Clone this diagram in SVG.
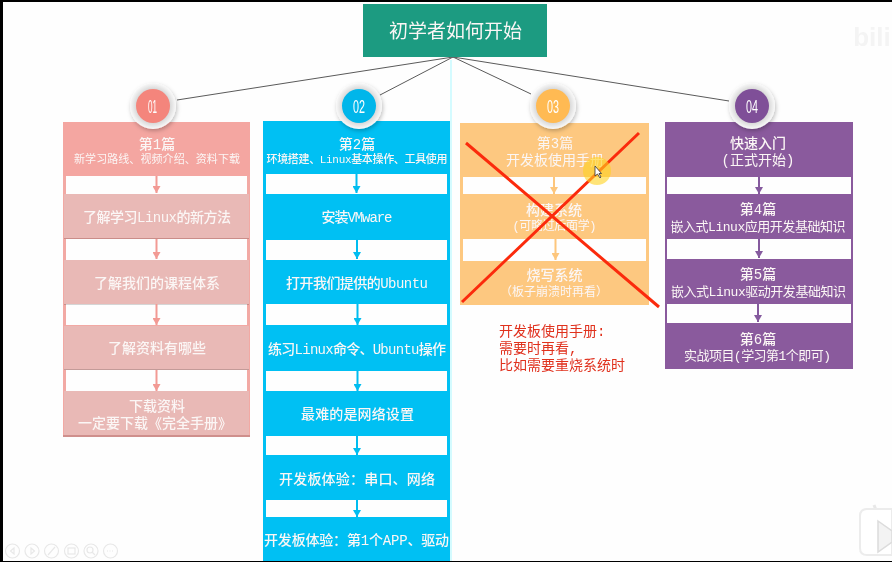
<svg xmlns="http://www.w3.org/2000/svg" width="892" height="562" viewBox="0 0 892 562">
<style>
text{font-family:"Liberation Mono","Noto Sans CJK SC",sans-serif;text-anchor:middle;fill:#fbf6f5}
.t{font-size:14px;font-weight:500}
.s{font-size:12px}
.m{font-size:13px}
.r{font-size:14px;fill:#e0301e;text-anchor:start}
.n{font-family:"Liberation Sans",sans-serif;font-size:18px;fill:#fff}
.gap{fill:#fefefe}
.sh{fill:#000;opacity:.16}
.link{stroke:#5a5a5a;stroke-width:1;fill:none}
.arr{stroke-width:2;fill:none}
.x{stroke:#fb2c0c;stroke-width:3;fill:none}
.tool{fill:none;stroke:#e8e8e8;stroke-width:1.200}
</style>
<defs>
<marker id="m1" markerUnits="userSpaceOnUse" markerWidth="9" markerHeight="8" refX="7" refY="4" orient="auto"><path d="M0 0L7 4L0 8Z" fill="#f29a94"/></marker>
<marker id="m2" markerUnits="userSpaceOnUse" markerWidth="9" markerHeight="8" refX="7" refY="4" orient="auto"><path d="M0 0L7 4L0 8Z" fill="#00bdf0"/></marker>
<marker id="m3" markerUnits="userSpaceOnUse" markerWidth="9" markerHeight="8" refX="7" refY="4" orient="auto"><path d="M0 0L7 4L0 8Z" fill="#fdc67c"/></marker>
<marker id="m4" markerUnits="userSpaceOnUse" markerWidth="9" markerHeight="8" refX="7" refY="4" orient="auto"><path d="M0 0L7 4L0 8Z" fill="#855a9e"/></marker>
<radialGradient id="ring" cx=".5" cy=".5" r=".5"><stop offset=".7" stop-color="#d4d4d4"/><stop offset="1" stop-color="#f9f9f9"/></radialGradient>
<filter id="ds" x="-30%" y="-30%" width="160%" height="160%"><feDropShadow dx="1" dy="2" stdDeviation="2" flood-color="#000" flood-opacity=".25"/></filter>
<filter id="soft" x="-2%" y="-2%" width="104%" height="104%"><feGaussianBlur stdDeviation=".35"/></filter>
</defs>
<rect width="892" height="562" fill="#fefefe"/>
<g filter="url(#soft)">
<rect x="450" y="60" width="2" height="502" fill="#d4fbff"/>

<g id="watermark"><text x="872" y="46" font-size="26" style="font-family:'Liberation Sans',sans-serif;font-weight:700;fill:#f4f4f4">bili</text></g>

<g id="col1">
<rect x="63" y="122" width="187" height="314" fill="#f2a9a4"/>
<rect class="gap" x="66" y="176" width="181" height="18"/>
<rect class="gap" x="66" y="239" width="181" height="21"/>
<rect class="gap" x="66" y="304" width="181" height="21"/>
<rect class="gap" x="66" y="370" width="181" height="21"/>
<g id="c1h"><rect x="63" y="122" width="187" height="54" fill="#f4a6a1"/><text class="t" x="157" y="149">第1篇</text><text class="s" x="157" y="163" textLength="166" style="font-size:11px">新学习路线、视频介绍、资料下载</text></g>
<g id="c1a"><rect x="64" y="194" width="185" height="44" fill="#e9b9b6"/><rect class="sh" x="64" y="238" width="185" height="1"/><text class="t" x="157" y="222" textLength="148">了解学习Linux的新方法</text></g>
<g id="c1b"><rect x="64" y="260" width="185" height="44" fill="#e9b9b6"/><rect class="sh" x="64" y="304" width="185" height="1"/><text class="t" x="157" y="288">了解我们的课程体系</text></g>
<g id="c1c"><rect x="64" y="326" width="185" height="44" fill="#e9b9b6"/><rect class="sh" x="64" y="369" width="185" height="1"/><text class="t" x="157" y="353">了解资料有哪些</text></g>
<g id="c1d"><rect x="64" y="391" width="185" height="44" fill="#e9b9b6"/><rect x="63" y="435" width="187" height="2" fill="#cf8f8c"/><text class="t" x="157" y="411">下载资料</text><text class="t" x="155" y="428">一定要下载《完全手册》</text></g>
</g>

<g id="col2">
<rect x="263" y="121" width="187" height="441" fill="#00c0f3"/>
<rect class="gap" x="266" y="174" width="181" height="20"/>
<rect class="gap" x="266" y="240" width="181" height="20"/>
<rect class="gap" x="266" y="304" width="181" height="21"/>
<rect class="gap" x="266" y="371" width="181" height="20"/>
<rect class="gap" x="266" y="436" width="181" height="19"/>
<rect class="gap" x="266" y="500" width="181" height="17"/>
<g id="c2h"><text class="t" x="357" y="149">第2篇</text><text x="357" y="163" textLength="181" style="font-size:11px;font-weight:500">环境搭建、Linux基本操作、工具使用</text></g>
<g id="c2a"><text class="t" x="357" y="222" textLength="71">安装VMware</text></g>
<g id="c2b"><text class="t" x="357" y="288" textLength="142">打开我们提供的Ubuntu</text></g>
<g id="c2c"><text class="t" x="357" y="354" textLength="178">练习Linux命令、Ubuntu操作</text></g>
<g id="c2d"><text class="t" x="357.500" y="419" textLength="113">最难的是网络设置</text></g>
<g id="c2e"><text class="t" x="357" y="484" textLength="156">开发板体验：串口、网络</text></g>
<g id="c2f"><text class="t" x="356.500" y="545" textLength="185">开发板体验：第1个APP、驱动</text></g>
</g>

<g id="col3">
<rect x="460" y="123" width="189" height="182" fill="#fdc880"/>
<rect class="gap" x="463" y="177" width="183" height="17"/>
<rect class="gap" x="463" y="239" width="183" height="22"/>
<g id="c3h"><text class="t" x="555" y="148" style="font-weight:400">第3篇</text><text class="t" x="555" y="165" style="font-weight:400">开发板使用手册</text></g>
<g id="c3a"><text class="t" x="554" y="215">构建系统</text><text class="s" x="554.500" y="230" textLength="84">(可略过后面学)</text></g>
<g id="c3b"><text class="t" x="554.500" y="280">烧写系统</text><text class="s" x="554" y="296">（板子崩溃时再看）</text></g>
</g>

<g id="col4">
<rect x="665" y="122" width="188" height="247" fill="#8a5a9d"/>
<rect class="gap" x="667" y="177" width="184" height="17"/>
<rect class="gap" x="667" y="239" width="184" height="20"/>
<rect class="gap" x="667" y="304" width="184" height="19"/>
<g id="c4h"><text class="t" x="758" y="148">快速入门</text><text class="t" x="758" y="165" style="font-weight:400">(正式开始)</text></g>
<g id="c4a"><text class="t" x="758" y="214">第4篇</text><text class="m" x="758" y="231" textLength="175">嵌入式Linux应用开发基础知识</text></g>
<g id="c4b"><text class="t" x="758" y="279">第5篇</text><text class="m" x="758.500" y="296" textLength="175">嵌入式Linux驱动开发基础知识</text></g>
<g id="c4c"><text class="t" x="758" y="344">第6篇</text><text class="s" x="757.500" y="360" textLength="147" style="font-size:13px">实战项目(学习第1个即可)</text></g>
</g>

<g id="connectors">
<path class="link" d="M453 57L177 100M453 57L380 95M453 57L531 94M453 57L729 101"/>
<g class="arr" stroke="#f29a94">
<path marker-end="url(#m1)" d="M156.500 176V193"/><path marker-end="url(#m1)" d="M156.500 239V259"/><path marker-end="url(#m1)" d="M156.500 304V325"/><path marker-end="url(#m1)" d="M156.500 370V391"/>
</g>
<g class="arr" stroke="#00bdf0">
<path marker-end="url(#m2)" d="M356.500 174V193"/><path marker-end="url(#m2)" d="M357 239V259"/><path marker-end="url(#m2)" d="M357.500 304V325"/><path marker-end="url(#m2)" d="M357.500 370V391"/><path marker-end="url(#m2)" d="M357 436V455"/><path marker-end="url(#m2)" d="M357 500V517"/>
</g>
<g class="arr" stroke="#fdc67c">
<path marker-end="url(#m3)" d="M554 177V194"/><path marker-end="url(#m3)" d="M555.500 239V260"/>
</g>
<g class="arr" stroke="#855a9e">
<path marker-end="url(#m4)" d="M759 177V194"/><path marker-end="url(#m4)" d="M759 239V258"/><path marker-end="url(#m4)" d="M758 303V322"/>
</g>
</g>

<g id="root"><rect x="363" y="4" width="184" height="53" fill="#1a9b81"/><text x="455.500" y="38" style="font-family:'Noto Sans CJK SC',sans-serif;font-size:19px">初学者如何开始</text></g>

<g id="b1"><circle cx="153" cy="106" r="23" fill="url(#ring)" filter="url(#ds)"/><circle cx="153" cy="106" r="17" fill="#f4857c"/><text class="n" x="152.500" y="112.500" textLength="9" lengthAdjust="spacingAndGlyphs">01</text></g>
<g id="b2"><circle cx="359" cy="106" r="23" fill="url(#ring)" filter="url(#ds)"/><circle cx="359" cy="106" r="17" fill="#00b6ea"/><text class="n" x="359" y="112.500" textLength="12" lengthAdjust="spacingAndGlyphs">02</text></g>
<g id="b3"><circle cx="553" cy="106" r="23" fill="url(#ring)" filter="url(#ds)"/><circle cx="553" cy="106" r="17" fill="#ffba52"/><text class="n" x="553" y="112.500" textLength="12" lengthAdjust="spacingAndGlyphs">03</text></g>
<g id="b4"><circle cx="752" cy="106" r="23" fill="url(#ring)" filter="url(#ds)"/><circle cx="752" cy="106" r="17" fill="#7f4f98"/><text class="n" x="752" y="112.500" textLength="12" lengthAdjust="spacingAndGlyphs">04</text></g>

<g id="cross"><path class="x" d="M466 143L659 307M639 133L462 302"/></g>
<g id="note"><text class="r" x="499" y="336">开发板使用手册:</text><text class="r" x="499" y="353">需要时再看,</text><text class="r" x="499" y="370">比如需要重烧系统时</text></g>

<g id="cursor"><circle cx="597" cy="171" r="14" fill="#ffd21e" opacity=".6"/><path d="M595 166V176L597.500 174L600 178L601 177L599 173.500H601.500Z" fill="#fff" stroke="#333" stroke-width=".8"/></g>

<g id="toolbar" class="tool">
<circle cx="12.500" cy="551" r="7"/><path d="M14 548L10.500 551L14 554Z"/>
<circle cx="32" cy="551" r="7"/><path d="M31 548L34.500 551L31 554Z"/>
<circle cx="51.500" cy="551" r="7"/><path d="M48 555L55 547"/>
<circle cx="71.500" cy="551" r="7"/><rect x="68" y="548" width="7" height="6"/>
<circle cx="91" cy="551" r="7"/><circle cx="90" cy="550" r="3"/><path d="M92 552L95 555"/>
<circle cx="110.500" cy="551" r="7"/><path d="M107 551H114" stroke-dasharray="1 1.500"/>
</g>

<g id="logo"><path d="M880 520L874 505" stroke="#e8e8e8" stroke-width="3"/><path d="M867 509h25v46h-25q-7 0-7-7v-32q0-7 7-7z" fill="#fff" stroke="#ececec" stroke-width="2"/><path d="M878 521L892 531V542L878 552Z" fill="#f3f3f3" stroke="#dcdcdc" stroke-width="1.500"/></g>
</g>
<rect x="0" y="0" width="892" height="2" fill="#000"/>
<rect x="0" y="0" width="3" height="562" fill="#000"/>
<rect x="0" y="561" width="892" height="1" fill="#000"/>
</svg>
